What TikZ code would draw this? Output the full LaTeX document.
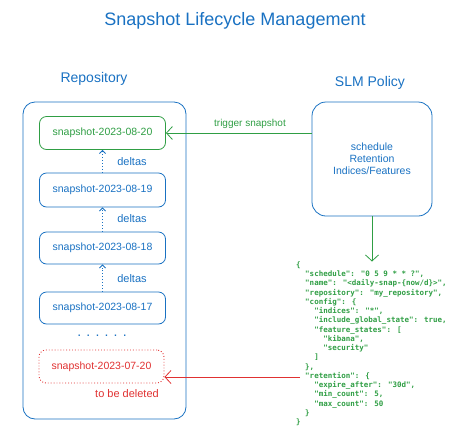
\documentclass[tikz,border=0pt]{standalone}
\usepackage{fontspec}
\setmainfont{Liberation Sans}
\newfontfamily\jsonfont{DejaVu Sans Mono}
\usetikzlibrary{arrows.meta}
\definecolor{exblue}{HTML}{1971C2}
\definecolor{exgreen}{HTML}{2F9E44}
\definecolor{exred}{HTML}{E03131}
\tikzset{
  snap/.style={draw=exblue, text=exblue, rounded corners=7pt, minimum width=126pt,
    minimum height=33pt, line width=0.8pt, inner sep=0pt, font=\fontsize{10.5}{13}\selectfont},
  lbl/.style={inner sep=0pt, font=\fontsize{11}{13}\selectfont},
  head/.style={inner sep=0pt, text=exblue, font=\fontsize{14}{16}\selectfont},
  arr/.style={-{Straight Barb[length=6pt,width=13pt,line width=0.8pt]}, line width=0.8pt},
  dotline/.style={dash pattern=on 0.9pt off 2pt, line width=0.9pt},
  deltaarr/.style={exblue, dotline, -{Straight Barb[length=3pt,width=6pt,line width=0.9pt]}},
}
\newcommand\jind{\phantom{xx}}
\begin{document}
\begin{tikzpicture}[x=1pt,y=-1pt]
\useasboundingbox (0,0) rectangle (474,437);
% title
\node[inner sep=0pt, text=exblue, font=\fontsize{18}{20}\selectfont] (title) at (235,21) {Snapshot Lifecycle Management};
\node[head] (repo) at (94,79) {Repository};
\node[head] (slm) at (370,83) {SLM Policy};
% repository container
\node[draw=exblue, rounded corners=12pt, line width=0.8pt, minimum width=163pt, minimum height=317pt, inner sep=0pt] (cont) at (104.5,260.5) {};
% snapshots
\node[snap, draw=exgreen, text=exgreen] (b1) at (102.5,133) {snapshot-2023-08-20};
\node[snap, minimum height=34pt] (b2) at (102.5,190) {snapshot-2023-08-19};
\node[snap, minimum height=32pt] (b3) at (102.5,248) {snapshot-2023-08-18};
\node[snap, minimum height=32pt] (b4) at (102.5,308) {snapshot-2023-08-17};
\node[snap, draw=exred, text=exred, dotline, minimum width=125pt] (del) at (101.5,366.5) {snapshot-2023-07-20};
% deltas
\draw[deltaarr] (b2.north) -- (b1.south);
\draw[deltaarr] (b3.north) -- (b2.south);
\draw[deltaarr] (b4.north) -- (b3.south);
\node[lbl, text=exblue] (d1) at (132,162) {deltas};
\node[lbl, text=exblue] (d2) at (132,219) {deltas};
\node[lbl, text=exblue] (d3) at (132,279) {deltas};
\node[inner sep=0pt, text=exblue, font=\fontsize{14}{16}\selectfont] (dots) at (102,336) {. . . . . .};
\node[lbl, text=exred] (tbd) at (127,394) {to be deleted};
% policy
\node[draw=exblue, text=exblue, rounded corners=14pt, line width=0.8pt, minimum width=120pt, minimum height=114pt, inner sep=0pt, align=center, font=\fontsize{10.5}{12}\selectfont] (policy) at (372,159) {schedule\\Retention\\Indices/Features};
% trigger arrow
\draw[exgreen, arr] (b1.east -| policy.west) -- (b1.east);
\node[inner sep=0pt, text=exgreen, font=\fontsize{10}{12}\selectfont] (trig) at (250,124) {trigger snapshot};
% json
\node[anchor=north west, inner sep=0pt, align=left, text=exgreen, font=\jsonfont\bfseries\fontsize{7.5}{9.25}\selectfont] (json) at (296,261.5) {%
\{\\
\jind"schedule": "0 5 9 * * ?",\\
\jind"name": "<daily-snap-\{now/d\}>",\\
\jind"repository": "my\_repository",\\
\jind"config": \{\\
\jind\jind"indices": "*",\\
\jind\jind"include\_global\_state": true,\\
\jind\jind"feature\_states": [\\
\jind\jind\jind"kibana",\\
\jind\jind\jind"security"\\
\jind\jind]\\
\jind\},\\
\jind"retention": \{\\
\jind\jind"expire\_after": "30d",\\
\jind\jind"min\_count": 5,\\
\jind\jind"max\_count": 50\\
\jind\}\\
\}};
\draw[exgreen, arr] (policy.south) -- (policy.south |- json.north);
% delete arrow
\coordinate (rs) at (300,377);
\draw[exred, arr] (rs) -- (rs -| del.east);
\end{tikzpicture}
\end{document}
